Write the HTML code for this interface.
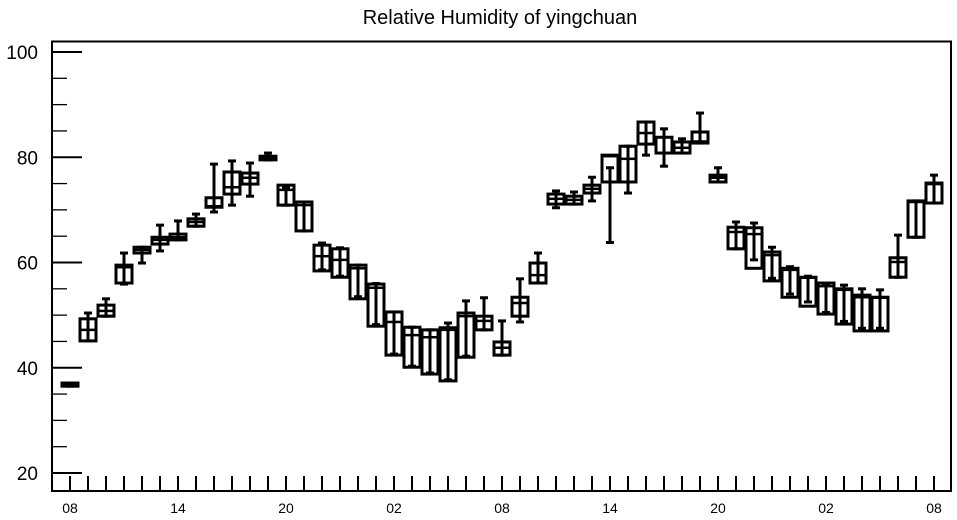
<!DOCTYPE html>
<html><head><meta charset="utf-8"><style>
html,body{margin:0;padding:0;background:#fff;}
svg{display:block;font-family:"Liberation Sans",sans-serif;}
</style></head><body>
<svg id="chart" width="957" height="520" viewBox="0 0 957 520">
<text x="500" y="24" text-anchor="middle" font-size="20">Relative Humidity of yingchuan</text>
<rect x="52" y="41.5" width="899" height="449.5" fill="none" stroke="#000" stroke-width="2"/>
<g id="axes"></g>
<g id="boxes"></g>
</svg>
<script>
const hourLabels = ["08","14","20","02","08","14","20","02","08"];
const yTicks = [20,40,60,80,100];
const maxV = [37.1,50.4,53.1,61.8,62.9,67.1,67.9,69.2,78.7,79.3,78.9,80.8,74.2,71.5,63.7,62.8,59.5,56.0,50.6,47.7,47.2,48.5,52.7,53.3,48.9,56.9,61.8,73.6,73.4,76.2,78.0,82.1,86.7,85.4,83.5,88.4,78.0,67.7,67.5,62.9,59.2,57.4,56.0,55.7,55.0,54.8,65.2,71.7,76.6];
const q3V = [37.1,49.3,51.9,59.5,62.9,64.8,65.4,68.3,72.3,77.2,77.0,80.2,74.7,71.5,63.3,62.6,59.5,55.9,50.6,47.7,47.2,47.6,50.4,49.8,44.9,53.4,59.9,73.0,72.6,74.7,80.4,82.1,86.7,83.8,82.9,84.8,76.6,66.7,66.6,62.0,58.9,57.2,56.1,55.0,53.8,53.4,60.9,71.7,75.1];
const medV = [36.9,47.2,50.8,59.1,62.4,64.3,64.8,67.7,70.7,74.3,76.1,79.8,73.8,70.9,61.2,60.5,58.9,55.2,48.7,46.2,45.8,47.2,49.8,48.9,43.8,52.3,57.6,72.1,71.9,74.0,80.2,79.7,84.6,83.8,81.8,83.0,76.1,65.8,65.4,61.4,58.6,57.1,55.5,54.8,53.4,53.3,60.1,71.5,74.9];
const q1V = [36.5,45.1,49.8,56.1,61.8,63.5,64.3,66.9,70.5,73.0,74.9,79.5,70.9,66.0,58.4,57.2,53.1,47.9,42.4,40.1,38.8,37.5,42.0,47.2,42.4,49.8,56.1,71.1,71.1,73.2,75.3,75.3,82.5,80.8,80.8,82.7,75.3,62.6,58.9,56.5,53.4,51.7,50.2,48.3,47.0,47.0,57.2,64.8,71.3];
const minV = [36.5,45.1,49.8,55.9,59.9,62.2,64.3,66.9,69.6,70.9,72.6,79.5,70.9,66.0,58.6,57.4,53.5,48.2,42.6,40.3,39.0,37.7,42.2,47.2,42.4,48.7,56.1,70.4,71.1,71.7,63.8,73.2,80.4,78.3,80.8,82.7,75.3,62.6,60.5,57.0,54.0,52.5,50.5,48.8,47.5,47.5,57.2,64.8,71.3];

const NS="http://www.w3.org/2000/svg";
const yS = v => 473 - (v-20)*5.2625;
const xS = i => 70 + 18*i;
function mk(tag, attrs, parent){const e=document.createElementNS(NS,tag);for(const k in attrs)e.setAttribute(k,attrs[k]);parent.appendChild(e);return e;}
const axes=document.getElementById('axes');
const boxes=document.getElementById('boxes');
// y ticks
for(let v=20; v<=100; v+=5){
  const major = yTicks.includes(v);
  const t=mk('line',{x1:52,x2:major?82:67,y1:yS(v),y2:yS(v),stroke:'#000','stroke-width':major?2:1.3},axes);
  
  
}
yTicks.forEach(v=>{
  const t=mk('text',{x:38,y:yS(v)+7,'text-anchor':'end','font-size':19},axes);
  t.textContent=v;
  
  
});
// x ticks
for(let i=0;i<maxV.length;i++){
  const t=mk('line',{x1:xS(i),x2:xS(i),y1:476,y2:491,stroke:'#000','stroke-width':2},axes);
  
  
}
hourLabels.forEach((l,k)=>{
  const t=mk('text',{x:xS(k*6),y:513,'text-anchor':'middle','font-size':14},axes);
  t.textContent=l;
  
  
});
// boxes
for(let i=0;i<maxV.length;i++){
  const g=mk('g',{},boxes);
  
  
  const x=xS(i);
  const w=mk('line',{x1:x,x2:x,y1:yS(maxV[i]),y2:yS(minV[i]),stroke:'#000','stroke-width':3},g);
  
  
  [maxV[i],minV[i]].forEach(v=>{
    const c=mk('line',{x1:x-4,x2:x+4,y1:yS(v),y2:yS(v),stroke:'#000','stroke-width':3},g);
    
    
  });
  const top=yS(q3V[i]), bot=yS(q1V[i]);
  const r=mk('rect',{x:x-8,y:top,width:16,height:Math.max(bot-top,1.5),fill:'none',stroke:'#000','stroke-width':3},g);
  
  
  const m=mk('line',{x1:x-8,x2:x+8,y1:yS(medV[i]),y2:yS(medV[i]),stroke:'#000','stroke-width':2.5},g);
  
  
}
</script>
</body></html>
